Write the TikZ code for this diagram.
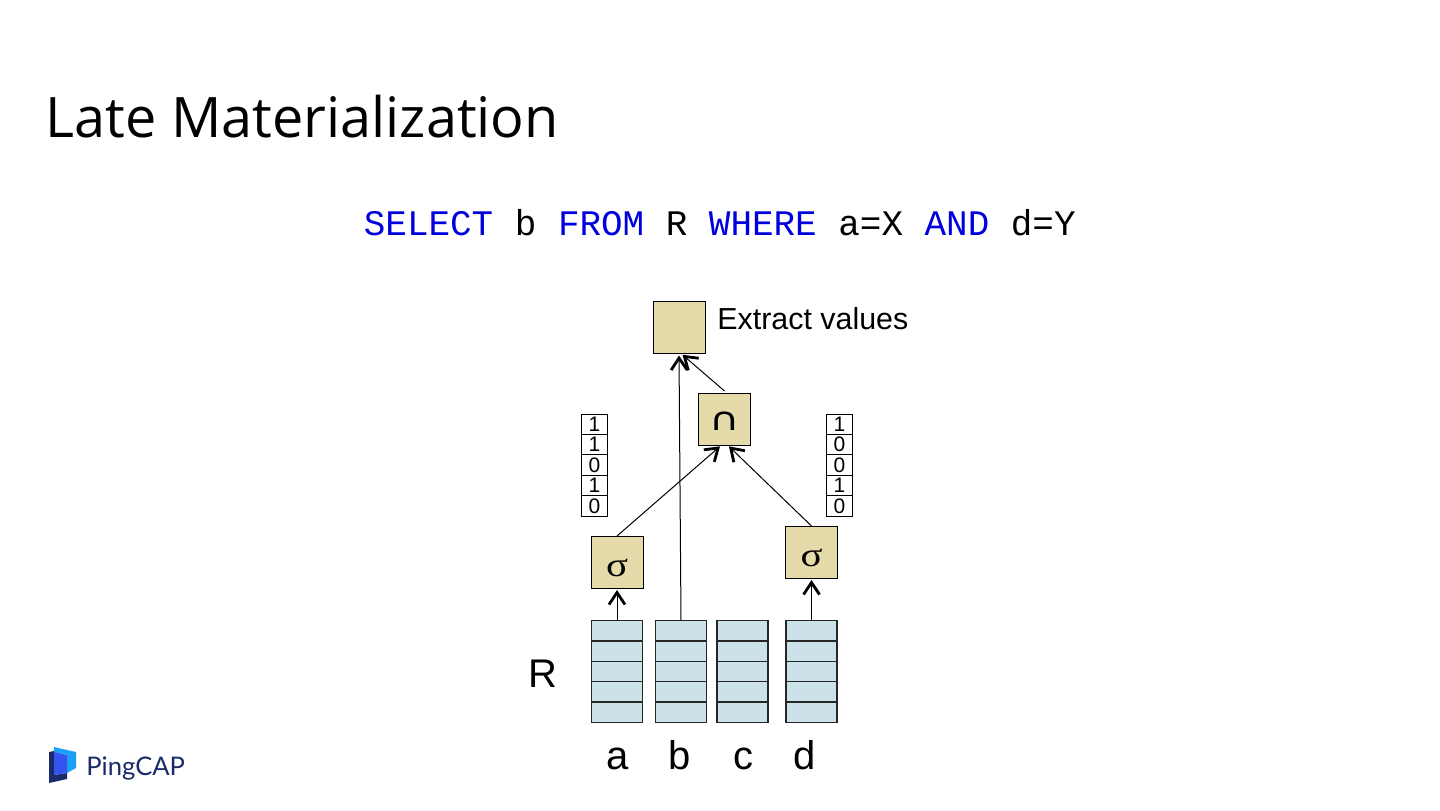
\documentclass[tikz,border=0pt]{standalone}
\usepackage{fontspec}
\setmainfont{Liberation Sans}
\setmonofont{Liberation Mono}
\newfontfamily\titlefont{Open Sans}
\newfontfamily\logofont{Lato}
\newfontfamily\sigmafont{Liberation Serif}
\newfontfamily\capfont{DejaVu Sans}
\usepackage{tikz}
\usetikzlibrary{arrows.meta, positioning}
\definecolor{opfill}{HTML}{E4DAAA}
\definecolor{colfill}{HTML}{CBE3E8}
\definecolor{kwblue}{HTML}{0000DD}
\definecolor{logonavy}{HTML}{1B2A6B}
\definecolor{logolight}{HTML}{1AA0F5}
\definecolor{logomid}{HTML}{3355EE}

\begin{document}
\begin{tikzpicture}[
  x=0.5pt, y=-0.5pt,
  opbox/.style  ={rectangle, draw, line width=0.45pt, fill=opfill, inner sep=0pt, outer sep=0pt,
                  minimum width=26pt, minimum height=26pt},
  colcell/.style={rectangle, draw=black!85, line width=0.7pt, fill=colfill, inner sep=0pt, outer sep=0pt,
                  minimum width=25.6pt, minimum height=10.2pt},
  bitcell/.style={rectangle, draw, line width=0.45pt, fill=white, inner sep=0pt, outer sep=0pt,
                  minimum width=13pt, minimum height=10.2pt, font=\fontsize{10.5}{10.5}\selectfont},
  collabel/.style={anchor=base, inner sep=0pt, font=\fontsize{20}{20}\selectfont},
  arr/.style    ={-{Straight Barb[length=6pt, width=8pt, line width=1.4pt]}, line width=0.5pt, shorten >=1pt},
]
\useasboundingbox (0,0) rectangle (1440,810);

% Heading
\node[anchor=base west, inner sep=0pt, font=\titlefont\fontsize{27.9}{28}\selectfont] (title) at (45.5,137)
  {Late Materialization};
\node[anchor=base west, inner sep=0pt, font=\ttfamily\fontsize{17.97}{18}\selectfont] (query) at (363.5,235)
  {\textcolor{kwblue}{SELECT} b \textcolor{kwblue}{FROM} R \textcolor{kwblue}{WHERE} a=X \textcolor{kwblue}{AND} d=Y};

% Operators
\node[opbox] (extract) at (679,327.5) {};
\node[opbox] (inter)   at (724.5,419) {\smash{\raisebox{-5.5pt}{\capfont\fontsize{16}{16}\selectfont\scalebox{1.3}[1]{∩}}}};
\node[opbox] (siga)    at (617,562)   {\smash{\raisebox{-7pt}{\sigmafont\fontsize{17}{17}\selectfont\scalebox{1.2}[1]{σ}}}};
\node[opbox] (sigd)    at (811.5,552) {\smash{\raisebox{-7pt}{\sigmafont\fontsize{17}{17}\selectfont\scalebox{1.2}[1]{σ}}}};
\node[anchor=base west, inner sep=0pt, font=\fontsize{15.2}{15.2}\selectfont] (extractlbl) at (717,329) {Extract values};

% Columns of R
\foreach \name/\xc in {a/617, b/681, c/742.5, d/811.5}
  \foreach \i in {1,...,5}
    \node[colcell] (\name\i) at (\xc, {610.3+20.4*\i}) {};

\node[anchor=base, inner sep=0pt, font=\fontsize{20}{20}\selectfont] (rlbl) at (543,687) {R};
\node[collabel] (lbla) at (617.5,769) {a};
\node[collabel] (lblb) at (680,769)   {b};
\node[collabel] (lblc) at (743,769)   {c};
\node[collabel] (lbld) at (805,769)   {d};

% Bit vectors
\foreach \i/\bit in {1/1, 2/1, 3/0, 4/1, 5/0}
  \node[bitcell] (bl\i) at (594.5, {403.8+20.4*\i}) {\bit};
\foreach \i/\bit in {1/1, 2/0, 3/0, 4/1, 5/0}
  \node[bitcell] (br\i) at (839.5, {403.8+20.4*\i}) {\bit};

% Connectors
\draw[arr] (a1.north) -- (siga.south);
\draw[arr] (d1.north) -- (sigd.south);
\draw[arr] (b1.north) -- (extract.south);
\draw[arr] ([yshift=1pt]inter.north) -- ([xshift=1pt]extract.south);
\draw[arr] (siga.north) -- ([xshift=-1.5pt]inter.south);
\draw[arr] (sigd.north) -- ([xshift=1.5pt]inter.south);

% Logo
\fill[logolight] (54,747) -- (76,752) -- (76,768) -- (67,773) -- (67,755) -- (54,752) -- cycle;
\fill[logonavy] (49,752) -- (54,751) -- (54,775) -- (67,773) -- (67,779) -- (49,783) -- cycle;
\fill[logomid] (54,752) -- (67,755) -- (67,773) -- (54,775) -- cycle;
\node[anchor=base west, inner sep=0pt, text=logonavy, font=\logofont\fontsize{12.8}{13}\selectfont] (logo) at (86,775.5) {PingCAP};
\end{tikzpicture}
\end{document}
